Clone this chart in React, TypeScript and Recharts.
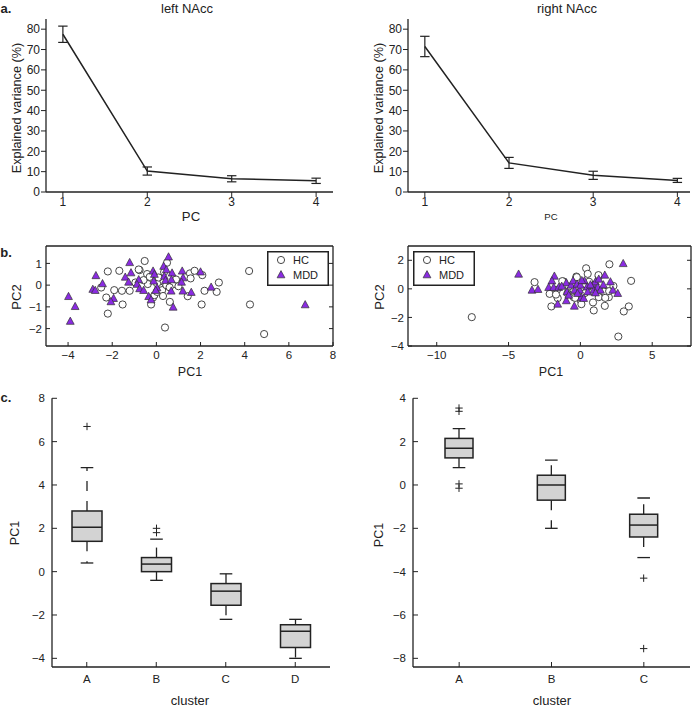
import React from 'react';
import { ComposedChart, Line, ErrorBar, Bar, XAxis, YAxis, ScatterChart, Scatter } from 'recharts';

const FONT = '"Liberation Sans", Arial, Helvetica, sans-serif';
const INK = '#222';
const PURPLE = '#8a2be2';

// a. explained variance
const pcs = [1, 2, 3, 4];
const leftVariance = [77.5, 10.3, 6.5, 5.5];
const leftVarianceErr = [4, 2, 1.5, 1.3];
const rightVariance = [71.5, 14.3, 8.2, 5.7];
const rightVarianceErr = [5, 2.7, 2, 1];
const varianceTicks = [0, 10, 20, 30, 40, 50, 60, 70, 80];

// b. PC1 / PC2 scores
const leftHC: [number, number][] = [
  [-2.2, -1.31], [-2.27, -0.57], [-2.2, 0.63], [-2.5, -0.11], [-1.91, -0.23], [-1.68, 0.66],
  [-1.56, -0.26], [-1.53, -0.89], [-1.21, -0.26], [-0.76, 0.69], [-0.53, 1.11], [-0.42, 0.51],
  [-0.39, 0.05], [-0.58, 0.23], [-0.24, -0.89], [-0.15, -0.57], [-0.09, -0.46], [0.03, -0.31],
  [0.15, -0.11], [0.26, -0.23], [0.45, 0.0], [0.48, 1.03], [0.39, -1.95], [0.61, -0.77],
  [0.79, 0.05], [0.89, 0.26], [1.42, -0.51], [1.52, 0.54], [1.73, 0.66], [1.55, 0.31],
  [2.08, 0.46], [2.05, -0.89], [2.18, -0.26], [2.73, -0.31], [2.83, 0.12], [4.2, 0.65],
  [4.24, -0.89], [4.88, -2.25], [0.03, 0.08], [0.1, 0.35], [-0.3, 0.38], [0.6, -0.1],
  [0.3, -0.5], [-0.95, 0.12], [1.0, -0.05], [-0.8, 0.72], [0.35, 0.6],
];
const leftMDD: [number, number][] = [
  [-3.98, -0.51], [-3.68, -0.97], [-3.9, -1.65], [-2.74, 0.45], [-2.44, 0.08], [-2.88, -0.18],
  [-2.77, -0.23], [-1.94, -0.6], [-2.06, -0.75], [-1.21, 1.05], [-1.41, 0.38], [-1.15, 0.58],
  [-1.26, 0.15], [-0.8, 0.26], [-0.88, 0.05], [-0.76, -0.15], [-0.58, -0.23], [-0.35, -0.51],
  [-0.24, -0.66], [-0.15, 0.66], [-0.09, 0.51], [-0.12, 0.2], [0.03, -0.11], [-0.03, -0.23],
  [0.33, 0.88], [0.45, 0.72], [0.55, 1.31], [0.36, 0.42], [0.41, 0.23], [0.71, 0.57],
  [0.68, 0.26], [0.67, -0.26], [0.76, -1.0], [1.17, 0.66], [1.21, 0.35], [1.14, 0.15],
  [1.2, -0.26], [1.58, -0.32], [2.0, 0.62], [2.48, -0.08], [6.74, -0.89],
];
const rightHC: [number, number][] = [
  [-7.56, -1.98], [-3.19, 0.47], [-2.14, -0.35], [-2.02, -1.23], [-1.58, -0.65], [-1.16, 0.51],
  [-1.63, -0.07], [-0.81, 0.16], [-0.28, 0.86], [0.4, 1.44], [0.51, 1.05], [0.0, -0.77],
  [0.07, -1.07], [0.88, -0.95], [0.93, -1.51], [1.28, 0.86], [1.28, -0.58], [1.7, -1.19],
  [1.98, -0.58], [2.02, 1.72], [3.02, -1.58], [3.37, -1.23], [3.53, 0.56], [2.64, -3.34],
  [0.81, -0.19], [1.63, -0.19], [-0.23, 0.05], [0.28, 0.35], [-0.47, -0.58], [-1.7, -0.4],
  [1.73, -0.63], [2.0, -0.16], [-0.37, -0.63], [1.26, 0.96], [-1.26, 0.54], [-0.25, 0.82],
  [0.6, 0.5], [1.0, 0.3], [-0.9, -0.3], [0.3, -0.3], [2.3, 0.2],
];
const rightMDD: [number, number][] = [
  [-4.3, 1.05], [-3.37, -0.07], [-2.95, -0.02], [-1.81, 0.91], [-1.98, 0.58], [-2.21, 0.12],
  [-1.86, 0.12], [-1.51, 0.12], [-1.58, -1.05], [-0.98, 0.44], [-0.93, -0.19], [-0.98, -0.81],
  [-0.65, 0.28], [-0.51, 0.58], [-0.4, -0.07], [-0.42, -1.19], [-0.23, 0.35], [-0.05, -0.07],
  [0.07, -0.58], [0.23, -0.65], [0.28, 0.58], [0.47, 0.16], [0.51, -0.19], [0.88, 0.28],
  [1.05, 0.51], [0.93, -0.07], [1.28, 0.7], [1.21, 0.12], [1.4, -0.07], [1.7, 0.98],
  [2.09, 0.51], [2.26, -0.07], [2.6, -0.3], [2.98, 1.79], [1.05, -0.26], [0.0, 0.28],
  [-0.81, -0.42], [-1.3, 0.2], [0.1, 0.6], [0.7, 0.3], [-0.2, -0.3], [1.6, 0.3],
];
const leftScatterXTicks = [-4, -2, 0, 2, 4, 6, 8];
const leftScatterYTicks = [-2, -1, 0, 1];
const rightScatterXTicks = [-10, -5, 0, 5];
const rightScatterYTicks = [-4, -2, 0, 2];

// c. PC1 per cluster
const leftClusters = ['A', 'B', 'C', 'D'];
const leftLow = [0.4, -0.4, -2.2, -4.0];
const leftQ1 = [1.4, 0.0, -1.55, -3.5];
const leftMedian = [2.05, 0.35, -0.9, -2.75];
const leftQ3 = [2.8, 0.65, -0.55, -2.45];
const leftHigh = [4.8, 1.5, -0.1, -2.2];
const leftOutliers = [[6.7], [1.8, 2.0], [], []];
const leftBoxTicks = [-4, -2, 0, 2, 4, 6, 8];

const rightClusters = ['A', 'B', 'C'];
const rightLow = [0.8, -2.0, -3.35];
const rightQ1 = [1.25, -0.7, -2.4];
const rightMedian = [1.7, 0.0, -1.85];
const rightQ3 = [2.15, 0.45, -1.35];
const rightHigh = [2.6, 1.15, -0.6];
const rightOutliers = [[3.4, 3.55, 0.05, -0.15], [], [-4.3, -7.55]];
const rightBoxTicks = [-8, -6, -4, -2, 0, 2, 4];

const fmtNum = (v: number) => (v < 0 ? '\u2212' + Math.abs(v) : String(v));

type Side = 'bottom' | 'left' | 'top' | 'right';
const axisTick = (side: Side, len: number, inward: boolean, gap: number, size: number, label = true) => (props: any) => {
  const { x, y, payload } = props;
  let x2 = x, y2 = y, tx = x, ty = y;
  let anchor: 'middle' | 'end' = 'middle';
  if (side === 'bottom') {
    y2 = inward ? y - len : y + len;
    ty = y + (inward ? 0 : len) + gap + size * 0.72;
  } else if (side === 'top') {
    y2 = inward ? y + len : y - len;
  } else if (side === 'left') {
    x2 = inward ? x + len : x - len;
    tx = x - (inward ? 0 : len) - gap;
    ty = y + size * 0.36;
    anchor = 'end';
  } else {
    x2 = inward ? x - len : x + len;
  }
  const v = payload.value;
  return (
    <g>
      <line x1={x} y1={y} x2={x2} y2={y2} stroke={INK} strokeWidth={1} />
      {label && (
        <text x={tx} y={ty} textAnchor={anchor} fontSize={size} fill={INK} fontFamily={FONT}>
          {typeof v === 'number' ? fmtNum(v) : v}
        </text>
      )}
    </g>
  );
};

const axisLine = { stroke: INK, strokeWidth: 1.3 };

const Txt = ({ x, y, size, children, rotate = false, bold = false }: any) => (
  <div
    style={{
      position: 'absolute', left: x, top: y, transform: `translate(-50%, -50%)${rotate ? ' rotate(-90deg)' : ''}`,
      fontSize: size, fontFamily: FONT, color: INK, whiteSpace: 'nowrap', lineHeight: 1, fontWeight: bold ? 'bold' : 'normal',
    }}
  >
    {children}
  </div>
);

const VariancePanel = ({ left, width, yAxisWidth, right, xDomain, values, errors }: any) => {
  const rows = pcs.map((pc, i) => ({ pc, v: values[i], err: errors[i] }));
  return (
    <div style={{ position: 'absolute', left, top: 0 }}>
      <ComposedChart width={width} height={225} data={rows} margin={{ top: 19, right, bottom: 0, left: 0 }}>
        <XAxis dataKey="pc" type="number" domain={xDomain} ticks={pcs} allowDataOverflow interval={0} height={33}
          axisLine={axisLine} tickLine={false} tickSize={0} tickMargin={0} tick={axisTick('bottom', 5, false, 0, 12)} />
        <YAxis type="number" domain={[0, 85]} ticks={varianceTicks} allowDataOverflow interval={0} width={yAxisWidth}
          axisLine={axisLine} tickLine={false} tickSize={0} tickMargin={0} tick={axisTick('left', 5, false, 1, 12)} />
        <Line dataKey="v" stroke={INK} strokeWidth={1.5} dot={false} isAnimationActive={false}>
          <ErrorBar dataKey="err" direction="y" width={4.7} stroke={INK} strokeWidth={1.2} />
        </Line>
      </ComposedChart>
    </div>
  );
};

const circleShape = (p: any) => (
  <circle cx={p.cx} cy={p.cy} r={3.6} fill="#fff" stroke="#333" strokeWidth={0.9} />
);
const triangleShape = (p: any) => {
  const s = 3.9;
  return (
    <polygon points={`${p.cx},${p.cy - s} ${p.cx - s},${p.cy + s * 0.85} ${p.cx + s},${p.cy + s * 0.85}`}
      fill={PURPLE} stroke="#333" strokeWidth={0.7} />
  );
};

const ScatterPanel = ({ left, width, yAxisWidth, rightWidth, xDomain, yDomain, xTicks, yTicks, hc, mdd }: any) => {
  const hcRows = hc.map(([x, y]: number[]) => ({ x, y }));
  const mddRows = mdd.map(([x, y]: number[]) => ({ x, y }));
  return (
    <div style={{ position: 'absolute', left, top: 236 }}>
      <ScatterChart width={width} height={130} margin={{ top: 0, right: 0, bottom: 0, left: 0 }}>
        <XAxis dataKey="x" type="number" domain={xDomain} ticks={xTicks} allowDataOverflow interval={0} height={20}
          axisLine={axisLine} tickLine={false} tickSize={0} tickMargin={0} tick={axisTick('bottom', 4, true, 5, 11.5)} />
        <XAxis xAxisId="top" orientation="top" type="number" domain={xDomain} ticks={xTicks} allowDataOverflow interval={0} height={10}
          axisLine={axisLine} tickLine={false} tickSize={0} tickMargin={0} tick={axisTick('top', 4, true, 0, 11, false)} />
        <YAxis dataKey="y" type="number" domain={yDomain} ticks={yTicks} allowDataOverflow interval={0} width={yAxisWidth}
          axisLine={axisLine} tickLine={false} tickSize={0} tickMargin={0} tick={axisTick('left', 4, true, 4, 11.5)} />
        <YAxis yAxisId="right" orientation="right" type="number" domain={yDomain} ticks={yTicks} allowDataOverflow interval={0} width={rightWidth}
          axisLine={axisLine} tickLine={false} tickSize={0} tickMargin={0} tick={axisTick('right', 4, true, 0, 11, false)} />
        <Scatter data={hcRows} shape={circleShape} isAnimationActive={false} />
        <Scatter data={mddRows} shape={triangleShape} isAnimationActive={false} />
      </ScatterChart>
    </div>
  );
};

const Legend = ({ left }: any) => (
  <svg style={{ position: 'absolute', left, top: 251 }} width={62} height={35}>
    <rect x={0.75} y={0.75} width={60.5} height={33.5} fill="#fff" stroke={INK} strokeWidth={1.5} />
    <circle cx={14} cy={9} r={3.6} fill="#fff" stroke="#333" strokeWidth={0.9} />
    <text x={26} y={13} fontSize={11} fontFamily={FONT} fill={INK}>HC</text>
    <polygon points="14,19.6 10.1,26.8 17.9,26.8" fill={PURPLE} stroke="#333" strokeWidth={0.7} />
    <text x={26} y={28} fontSize={11} fontFamily={FONT} fill={INK}>MDD</text>
  </svg>
);

const BoxShape = (props: any) => {
  const { x, y, width, height, payload } = props;
  const top = Math.min(y, y + height);
  const span = Math.abs(height);
  const { low, q1, median, q3, high, outliers } = payload;
  const py = (v: number) => top + ((high - v) / (high - low)) * span;
  const cx = x + width / 2;
  const cap = 6.3;
  const arm = 3.7;
  return (
    <g>
      <line x1={cx} y1={py(q3)} x2={cx} y2={py(high)} stroke={INK} strokeWidth={1.3} strokeDasharray="10 10" />
      <line x1={cx} y1={py(q1)} x2={cx} y2={py(low)} stroke={INK} strokeWidth={1.3} strokeDasharray="10 10" />
      <line x1={cx - cap} y1={py(high)} x2={cx + cap} y2={py(high)} stroke={INK} strokeWidth={1.3} />
      <line x1={cx - cap} y1={py(low)} x2={cx + cap} y2={py(low)} stroke={INK} strokeWidth={1.3} />
      <rect x={x} y={py(q3)} width={width} height={py(q1) - py(q3)} fill="#d3d3d3" stroke={INK} strokeWidth={1.5} />
      <line x1={x} y1={py(median)} x2={x + width} y2={py(median)} stroke={INK} strokeWidth={1.5} />
      {outliers.map((o: number, i: number) => (
        <g key={i}>
          <line x1={cx - arm} y1={py(o)} x2={cx + arm} y2={py(o)} stroke={INK} strokeWidth={1} />
          <line x1={cx} y1={py(o) - arm} x2={cx} y2={py(o) + arm} stroke={INK} strokeWidth={1} />
        </g>
      ))}
    </g>
  );
};

const BoxPanel = ({ left, width, yAxisWidth, right, clusters, low, q1, median, q3, high, outliers, yDomain, yTicks, barSize }: any) => {
  const rows = clusters.map((cluster: string, i: number) => ({
    cluster, low: low[i], q1: q1[i], median: median[i], q3: q3[i], high: high[i], outliers: outliers[i],
  }));
  return (
    <div style={{ position: 'absolute', left, top: 380 }}>
      <ComposedChart width={width} height={310} data={rows} margin={{ top: 18.3, right, bottom: 0, left: 0 }}>
        <XAxis dataKey="cluster" type="category" interval={0} height={23}
          axisLine={axisLine} tickLine={false} tickSize={0} tickMargin={0} tick={axisTick('bottom', 5, true, 8, 11.5)} />
        <YAxis type="number" domain={yDomain} ticks={yTicks} allowDataOverflow interval={0} width={yAxisWidth}
          axisLine={axisLine} tickLine={false} tickSize={0} tickMargin={0} tick={axisTick('left', 5, true, 7, 11.5)} />
        <Bar dataKey={(r: any) => [r.low, r.high]} barSize={barSize} shape={BoxShape} isAnimationActive={false} />
      </ComposedChart>
    </div>
  );
};

export default function App() {
  return (
    <div style={{ position: 'absolute', left: 0, top: 0, width: 697, height: 707, background: '#fff', overflow: 'hidden' }}>
      <VariancePanel left={0} width={345} yAxisWidth={46} right={12} xDomain={[0.8, 4.2]} values={leftVariance} errors={leftVarianceErr} />
      <VariancePanel left={347} width={350} yAxisWidth={61} right={7} xDomain={[0.8, 4.15]} values={rightVariance} errors={rightVarianceErr} />

      <ScatterPanel left={0} width={345} yAxisWidth={46} rightWidth={12} xDomain={[-5, 8]} yDomain={[-2.8, 1.8]}
        xTicks={leftScatterXTicks} yTicks={leftScatterYTicks} hc={leftHC} mdd={leftMDD} />
      <ScatterPanel left={347} width={350} yAxisWidth={61} rightWidth={6} xDomain={[-12, 7.7]} yDomain={[-4, 3]}
        xTicks={rightScatterXTicks} yTicks={rightScatterYTicks} hc={rightHC} mdd={rightMDD} />
      <Legend left={267} />
      <Legend left={413} />

      <BoxPanel left={0} width={345} yAxisWidth={52} right={15} clusters={leftClusters} low={leftLow} q1={leftQ1}
        median={leftMedian} q3={leftQ3} high={leftHigh} outliers={leftOutliers} yDomain={[-4.4, 8]} yTicks={leftBoxTicks} barSize={30} />
      <BoxPanel left={347} width={350} yAxisWidth={66} right={7} clusters={rightClusters} low={rightLow} q1={rightQ1}
        median={rightMedian} q3={rightQ3} high={rightHigh} outliers={rightOutliers} yDomain={[-8.4, 4]} yTicks={rightBoxTicks} barSize={28} />

      <Txt x={6} y={8} size={13} bold>a.</Txt>
      <Txt x={187} y={8} size={13}>left NAcc</Txt>
      <Txt x={567} y={8} size={13}>right NAcc</Txt>
      <Txt x={17} y={108} size={12.7} rotate>Explained variance (%)</Txt>
      <Txt x={379} y={108} size={12.7} rotate>Explained variance (%)</Txt>
      <Txt x={191} y={217} size={13.2}>PC</Txt>
      <Txt x={551} y={217} size={9.6}>PC</Txt>

      <Txt x={6} y={252} size={13} bold>b.</Txt>
      <Txt x={16} y={297} size={13} rotate>PC2</Txt>
      <Txt x={379} y={297} size={13} rotate>PC2</Txt>
      <Txt x={190} y={372} size={12.5}>PC1</Txt>
      <Txt x={551} y={372} size={12.5}>PC1</Txt>

      <Txt x={6} y={397} size={13} bold>c.</Txt>
      <Txt x={15} y={533} size={12.5} rotate>PC1</Txt>
      <Txt x={379} y={535} size={12.5} rotate>PC1</Txt>
      <Txt x={190} y={700} size={13}>cluster</Txt>
      <Txt x={552} y={700} size={13}>cluster</Txt>
    </div>
  );
}
